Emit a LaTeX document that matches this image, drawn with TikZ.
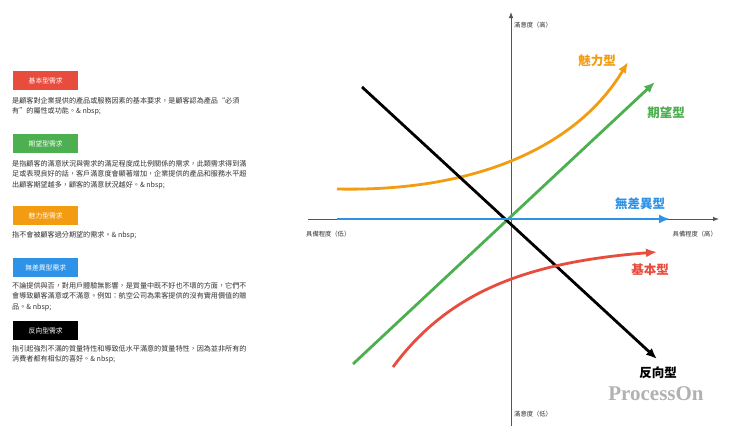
\documentclass[tikz,border=0pt]{standalone}
\usepackage{fontspec}
\setmainfont{Noto Sans CJK TC}
\newfontfamily\pserif{Liberation Serif}
\usetikzlibrary{arrows.meta}
\definecolor{cred}{HTML}{E84C3D}
\definecolor{cgreen}{HTML}{4CAF50}
\definecolor{corange}{HTML}{F39C12}
\definecolor{cblue}{HTML}{2E93E6}
\definecolor{ctext}{HTML}{333333}
\definecolor{caxis}{HTML}{555555}
\tikzset{
  tagbox/.style={draw=none,minimum width=65pt,minimum height=19pt,inner sep=0pt,anchor=north west,text=white,font=\fontsize{6.8}{8}\selectfont},
  desc/.style={anchor=north west,inner sep=0pt,align=left,text=ctext,font=\fontsize{7.1}{10.4}\selectfont},
  axis/.style={draw=caxis,line width=0.8pt,-{Latex[length=6pt,width=4.5pt]}},
  axlabel/.style={inner sep=0pt,text=ctext,font=\fontsize{6.3}{7}\selectfont},
  kano/.style={line width=2.8pt,-{Latex[length=11pt,width=9pt]}},
  kanolabel/.style={inner sep=0pt,font=\bfseries\fontsize{12.5}{14}\selectfont},
}
\begin{document}
\begin{tikzpicture}[x=1pt,y=-1pt]
\useasboundingbox[fill=white] (0,0) rectangle (740,439);

% left panel
\node[tagbox,fill=cred] (b1) at (13,71) {基本型需求};
\node[desc] (d1) at (12,97) {是顧客對企業提供的產品或服務因素的基本要求，是顧客認為產品“必須\\有”的屬性或功能。\& nbsp;};
\node[tagbox,fill=cgreen] (b2) at (13,134) {期望型需求};
\node[desc] (d2) at (12,160) {是指顧客的滿意狀況與需求的滿足程度成比例關係的需求，此類需求得到滿\\足或表現良好的話，客戶滿意度會顯著增加，企業提供的產品和服務水平超\\出顧客期望越多，顧客的滿意狀況越好。\& nbsp;};
\node[tagbox,fill=corange] (b3) at (13,206) {魅力型需求};
\node[desc] (d3) at (12,231) {指不會被顧客過分期望的需求。\& nbsp;};
\node[tagbox,fill=cblue] (b4) at (13,258) {無差異型需求};
\node[desc] (d4) at (12,282) {不論提供與否，對用戶體驗無影響，是質量中既不好也不壞的方面，它們不\\會導致顧客滿意或不滿意。例如：航空公司為乘客提供的沒有實用價值的贈\\品。\& nbsp;};
\node[tagbox,fill=black] (b5) at (13,321) {反向型需求};
\node[desc] (d5) at (12,345) {指引起強烈不滿的質量特性和導致低水平滿意的質量特性，因為並非所有的\\消費者都有相似的喜好。\& nbsp;};

% axes
\coordinate (xl) at (308,219);
\coordinate (xr) at (719,219);
\coordinate (yb) at (511,426);
\coordinate (yt) at (511,12);
\draw[axis] (xl) -- (xr);
\draw[axis] (yb) -- (yt);
\node[axlabel,anchor=west] (ylabt) at (514,25) {滿意度（高）};
\node[axlabel,anchor=west] (ylabb) at (514,414) {滿意度（低）};
\node[axlabel,anchor=west] (xlabl) at (306,234) {具備程度（低）};
\node[axlabel,anchor=east] (xlabr) at (717,234) {具備程度（高）};

% curves
\coordinate (o0) at (337,189); \coordinate (o1) at (628,62);
\coordinate (g0) at (353,364); \coordinate (g1) at (655,82);
\coordinate (k0) at (362,87);  \coordinate (k1) at (657,359);
\coordinate (u0) at (337,219); \coordinate (u1) at (670,219);
\coordinate (r0) at (393,367); \coordinate (r1) at (657,252);

\draw[kano,corange] (o0) .. controls (470,192) and (575,150) .. (o1);
\draw[kano,cgreen] (g0) -- (g1);
\draw[kano,black] (k0) -- (k1);
\draw[kano,cblue] (u0) -- (u1);
\draw[kano,cred] (r0) .. controls (450,290) and (530,262) .. (r1);

\node[kanolabel,text=corange] (lo) at (597,61) {魅力型};
\node[kanolabel,text=cgreen] (lg) at (666,113) {期望型};
\node[kanolabel,text=cblue] (lu) at (640,204) {無差異型};
\node[kanolabel,text=cred] (lr) at (650,270) {基本型};
\node[kanolabel,text=black] (lk) at (658,373) {反向型};

\node[inner sep=0pt,text=black!30,font=\pserif\bfseries\fontsize{21}{24}\selectfont] (po) at (656,394) {ProcessOn};
\end{tikzpicture}
\end{document}
